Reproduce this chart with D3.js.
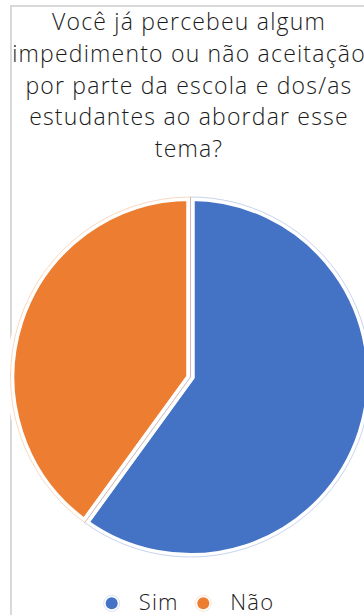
<!DOCTYPE html>
<html>
<head>
<meta charset="utf-8">
<script src="https://cdn.jsdelivr.net/npm/d3@7"></script>
<style>
  body { margin: 0; background: #fff; }
  svg { display: block; }
</style>
</head>
<body>
<svg id="chart"></svg>
<script>
const categories = ["Sim", "Não"];
const values = [60, 40];
const colors = ["#4472c4", "#ed7d31"];
const titleLines = [
  "Você já percebeu algum",
  "impedimento ou não aceitação",
  "por parte da escola e dos/as",
  "estudantes ao abordar esse",
  "tema?"
];

const width = 364, height = 615;
const font = "'Open Sans', sans-serif";

const svg = d3.select("#chart")
  .attr("width", width)
  .attr("height", height);

// chart frame (runs off the right and bottom edge)
svg.append("rect")
  .attr("x", 11).attr("y", 6)
  .attr("width", 380).attr("height", 640)
  .attr("fill", "#fff")
  .attr("stroke", "#d9d9d9")
  .attr("stroke-width", 2);

// title
const title = svg.append("text")
  .attr("text-anchor", "middle")
  .attr("font-family", font)
  .attr("font-size", 23)
  .attr("font-weight", 300)
  .attr("letter-spacing", 1.2)
  .attr("fill", "#1a1a1a");
titleLines.forEach((t, i) => {
  title.append("tspan")
    .attr("x", 189)
    .attr("y", 30 + i * 31.8)
    .text(t);
});

// pie
const cx = 190.5, cy = 377, r = 180;
const pie = d3.pie().sort(null).value(d => d)(values);
const arc = d3.arc().innerRadius(0).outerRadius(r);

const g = svg.append("g").attr("transform", `translate(${cx},${cy})`);

g.selectAll("path.fill")
  .data(pie)
  .enter()
  .append("path")
  .attr("class", "fill")
  .attr("d", arc)
  .attr("fill", (d, i) => colors[i]);

g.selectAll("path.gap")
  .data(pie)
  .enter()
  .append("path")
  .attr("class", "gap")
  .attr("d", arc)
  .attr("fill", "none")
  .attr("stroke", "#fff")
  .attr("stroke-width", 8)
  .attr("stroke-linejoin", "miter");

g.selectAll("path.edge")
  .data(pie)
  .enter()
  .append("path")
  .attr("class", "edge")
  .attr("d", arc)
  .attr("fill", "none")
  .attr("stroke", (d, i) => colors[i])
  .attr("stroke-opacity", 0.3)
  .attr("stroke-width", 1);

// legend
const legendX = d3.scalePoint()
  .domain(categories)
  .range([111.7, 203.3]);

const legend = svg.append("g")
  .selectAll("g")
  .data(categories)
  .enter()
  .append("g")
  .attr("transform", d => `translate(${legendX(d)},603.3)`);

legend.append("circle")
  .attr("r", 8)
  .attr("fill", "none")
  .attr("stroke", (d, i) => colors[i])
  .attr("stroke-opacity", 0.2);
legend.append("circle")
  .attr("r", 6)
  .attr("fill", (d, i) => colors[i]);
legend.append("text")
  .attr("x", 27)
  .attr("y", 7)
  .attr("font-family", font)
  .attr("font-size", 22)
  .attr("font-weight", 300)
  .attr("letter-spacing", 1.2)
  .attr("fill", "#1a1a1a")
  .text(d => d);
</script>
</body>
</html>
